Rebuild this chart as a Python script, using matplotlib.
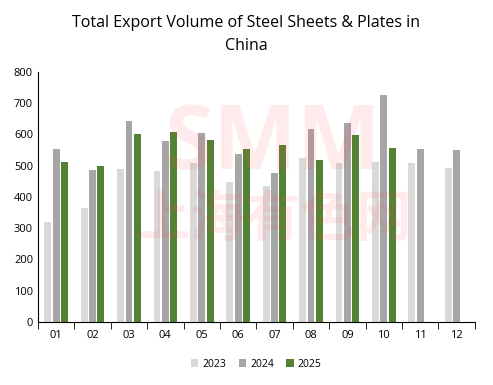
import matplotlib.pyplot as plt
import numpy as np

plt.rcParams['font.family'] = ['Open Sans', 'Noto Sans CJK SC', 'DejaVu Sans']

months = ['01', '02', '03', '04', '05', '06', '07', '08', '09', '10', '11', '12']
v2023 = [320, 365, 490, 483, 509, 448, 435, 525, 509, 512, 509, 493]
v2024 = [554, 486, 643, 579, 605, 538, 477, 618, 637, 726, 554, 550]
v2025 = [512, 499, 602, 608, 582, 554, 566, 518, 598, 557]

fig = plt.figure(figsize=(4.93, 3.85), dpi=100)
ax = fig.add_axes([0.077, 0.164, 0.886, 0.649])

x = np.arange(len(months))
w = 0.19
ax.bar(x - 0.23, v2023, w, color='#d9d9d9', label='2023')
ax.bar(x, v2024, w, color='#a6a6a6', label='2024')
ax.bar(x[:len(v2025)] + 0.23, v2025, w, color='#548235', label='2025')

ax.set_xlim(-0.5, 11.5)
ax.set_ylim(0, 800)
ax.set_yticks(range(0, 801, 100))
ax.set_xticks(x)
ax.set_xticklabels(months)
ax.set_xticks(np.arange(-0.5, 12, 1), minor=True)
ax.tick_params(axis='x', which='major', length=0, labelsize=8, pad=6)
ax.tick_params(axis='x', which='minor', length=5, direction='out')
ax.tick_params(axis='y', length=0, labelsize=8)
for s in ['top', 'right']:
    ax.spines[s].set_visible(False)

# watermark
fig.text(0.555, 0.62, 'SMM', fontsize=64, fontweight='bold', color='#ff4040',
         alpha=0.1, ha='center', va='center', zorder=10, fontstretch='expanded')
fig.text(0.555, 0.425, '上海有色网', fontsize=40, fontweight='bold', color='#ff4040',
         alpha=0.1, ha='center', va='center', zorder=10)

fig.suptitle('Total Export Volume of Steel Sheets & Plates in\nChina',
             fontsize=11.5, y=0.96, linespacing=1.55)

ax.legend(loc='upper center', bbox_to_anchor=(0.5, -0.11), ncol=3, frameon=False,
          fontsize=7.5, handlelength=0.7, handleheight=0.7, columnspacing=1.2,
          handletextpad=0.4)

fig.savefig('out.png', dpi=100)
